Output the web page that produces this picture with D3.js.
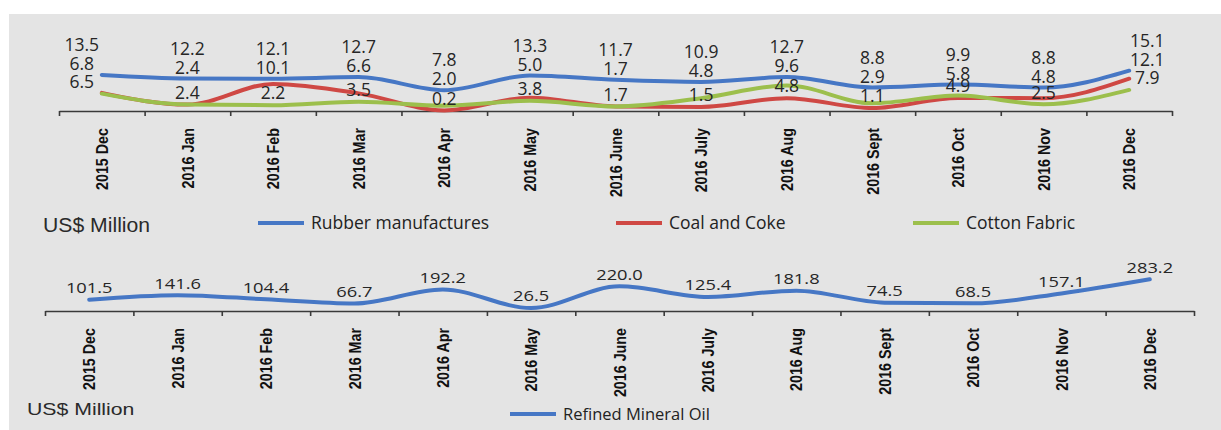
<!DOCTYPE html>
<html>
<head>
<meta charset="utf-8">
<script src="https://cdn.jsdelivr.net/npm/d3@7"></script>
<style>
  body { margin: 0; background: #fff; }
  svg { display: block; }
</style>
</head>
<body>
<div id="chart"></div>
<script>
// months on the category axis (same for both panels)
var months = ["2015 Dec", "2016 Jan", "2016 Feb", "2016 Mar", "2016 Apr", "2016 May",
  "2016 June", "2016 July", "2016 Aug", "2016 Sept", "2016 Oct", "2016 Nov", "2016 Dec"];

// top panel series, US$ Million
var rubber = [13.5, 12.2, 12.1, 12.7, 7.8, 13.3, 11.7, 10.9, 12.7, 8.8, 9.9, 8.8, 15.1];
var coal = [6.8, 2.4, 10.1, 6.6, 0.2, 5.0, 1.7, 1.5, 4.8, 1.1, 4.9, 4.8, 12.1];
var cotton = [6.5, 2.4, 2.2, 3.5, 2.0, 3.8, 1.7, 4.8, 9.6, 2.9, 5.8, 2.5, 7.9];

// bottom panel series, US$ Million
var mineralOil = [101.5, 141.6, 104.4, 66.7, 192.2, 26.5, 220.0, 125.4, 181.8, 74.5, 68.5, 157.1, 283.2];

var svgWidth = 1221;
var svgHeight = 430;

var colors = { rubber: "#4677c5", coal: "#cf4844", cotton: "#9cbf4c", oil: "#4677c5" };

var svg = d3.select("#chart")
  .append("svg")
  .attr("width", svgWidth)
  .attr("height", svgHeight);

// grey backdrop
svg.append("rect")
  .attr("x", 9)
  .attr("y", 14)
  .attr("width", svgWidth - 9)
  .attr("height", svgHeight - 14)
  .attr("fill", "#e4e4e4");

var fmt = d3.format(".1f");

// draws category axis: tick marks between months and rotated month names
function drawAxis(x0, x1, axisY) {
  var edge = d3.scaleLinear().domain([0, months.length]).range([x0, x1]);
  var band = d3.scaleBand().domain(months).range([x0, x1]).padding(0);

  var axis = d3.axisBottom(edge)
    .tickValues(d3.range(months.length + 1))
    .tickSize(5)
    .tickSizeOuter(0)
    .tickFormat("");

  var g = svg.append("g")
    .attr("transform", `translate(0, ${axisY})`)
    .call(axis);
  g.select(".domain").attr("stroke", "#3a3a3a").attr("stroke-width", 1.6);
  g.selectAll(".tick line").attr("stroke", "#3a3a3a").attr("stroke-width", 1.6);

  svg.append("g").selectAll("text")
    .data(months)
    .enter()
    .append("text")
    .attr("transform", d => `translate(${band(d) + band.bandwidth() / 2}, ${axisY + 17}) rotate(-90) scale(1, 1.2)`)
    .attr("text-anchor", "end")
    .attr("dy", "0.36em")
    .attr("font-family", "'Liberation Sans', Arial, sans-serif")
    .attr("font-weight", "bold")
    .attr("font-size", "14.3px")
    .attr("fill", "#111")
    .text(d => d);

  return band;
}

function drawLine(band, yScale, values, color) {
  var line = d3.line()
    .x((d, i) => band(months[i]) + band.bandwidth() / 2)
    .y(d => yScale(d))
    .curve(d3.curveMonotoneX);
  svg.append("path")
    .datum(values)
    .attr("d", line)
    .attr("fill", "none")
    .attr("stroke", color)
    .attr("stroke-width", 4)
    .attr("stroke-linejoin", "round")
    .attr("stroke-linecap", "round");
}

function legendItem(x, y, color, label, size) {
  svg.append("line")
    .attr("x1", x).attr("x2", x + 46)
    .attr("y1", y).attr("y2", y)
    .attr("stroke", color)
    .attr("stroke-width", 4);
  svg.append("text")
    .attr("x", x + 53)
    .attr("y", y)
    .attr("dy", "0.35em")
    .attr("font-family", "'Open Sans', sans-serif")
    .attr("font-size", size)
    .attr("fill", "#222")
    .text(label);
}

// ---------- top panel ----------
var topAxisY = 111;
var xTop = drawAxis(59, 1172, topAxisY);
var yTop = d3.scaleLinear().domain([0, 16]).range([topAxisY, topAxisY - 42.7]);

drawLine(xTop, yTop, rubber, colors.rubber);
drawLine(xTop, yTop, coal, colors.coal);
drawLine(xTop, yTop, cotton, colors.cotton);

// data labels stacked per month: rubber on top, then higher / lower of coal and cotton
var topLabels = [];
months.forEach(function(m, i) {
  var cx = xTop(m) + xTop.bandwidth() / 2;
  if (i === 0) cx -= 20;
  if (i === months.length - 1) cx += 18;
  var hi = Math.max(coal[i], cotton[i]);
  var lo = Math.min(coal[i], cotton[i]);
  var midY = yTop(rubber[i]) - 11;
  topLabels.push({ x: cx, y: midY - 19, v: rubber[i] });
  topLabels.push({ x: cx, y: midY, v: hi });
  topLabels.push({ x: cx, y: yTop(lo) - 12, v: lo });
});

svg.append("g").selectAll("text")
  .data(topLabels)
  .enter()
  .append("text")
  .attr("x", d => d.x)
  .attr("y", d => d.y)
  .attr("dy", "0.36em")
  .attr("text-anchor", "middle")
  .attr("font-family", "'Open Sans', sans-serif")
  .attr("font-size", "17.5px")
  .attr("fill", "#262626")
  .text(d => fmt(d.v));

svg.append("text")
  .attr("transform", "translate(43, 225) scale(1.06, 1)")
  .attr("dy", "0.36em")
  .attr("font-family", "'Liberation Sans', Arial, sans-serif")
  .attr("font-size", "20px")
  .attr("fill", "#2a2a2a")
  .text("US$ Million");

legendItem(258, 223, colors.rubber, "Rubber manufactures", "17.5px");
legendItem(616, 223, colors.coal, "Coal and Coke", "17.5px");
legendItem(913, 223, colors.cotton, "Cotton Fabric", "17.5px");

// ---------- bottom panel ----------
var botAxisY = 311;
var xBot = drawAxis(45, 1194, botAxisY);
var yBot = d3.scaleLinear().domain([0, 300]).range([botAxisY, botAxisY - 33.6]);

drawLine(xBot, yBot, mineralOil, colors.oil);

svg.append("g").selectAll("text")
  .data(mineralOil)
  .enter()
  .append("text")
  .attr("transform", (d, i) => `translate(${xBot(months[i]) + xBot.bandwidth() / 2}, ${yBot(d) - 12}) scale(1.22, 1)`)
  .attr("dy", "0.36em")
  .attr("text-anchor", "middle")
  .attr("font-family", "'Open Sans', sans-serif")
  .attr("font-size", "15px")
  .attr("fill", "#262626")
  .text(d => fmt(d));

svg.append("text")
  .attr("transform", "translate(27, 409) scale(1.25, 1)")
  .attr("dy", "0.36em")
  .attr("font-family", "'Liberation Sans', Arial, sans-serif")
  .attr("font-size", "17px")
  .attr("fill", "#2a2a2a")
  .text("US$ Million");

legendItem(510, 414, colors.oil, "Refined Mineral Oil", "16.5px");
</script>
</body>
</html>
